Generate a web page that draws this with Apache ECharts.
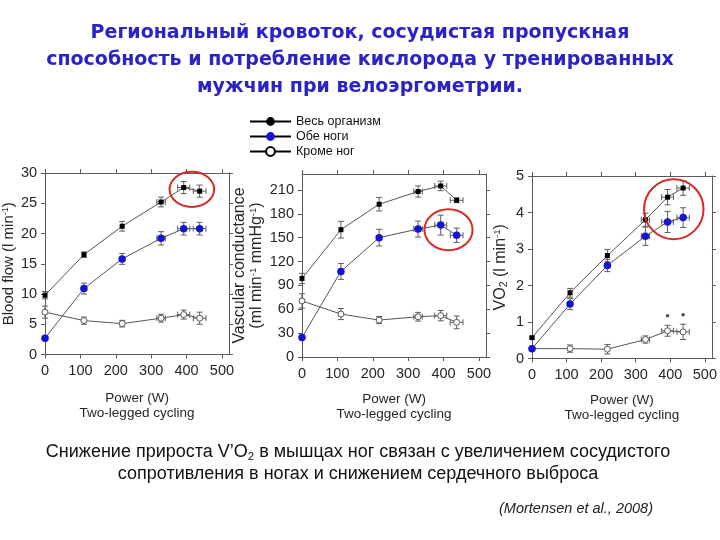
<!DOCTYPE html>
<html><head><meta charset="utf-8">
<script src="https://cdn.jsdelivr.net/npm/echarts@6/dist/echarts.min.js"></script>
<style>html,body{margin:0;padding:0;background:#fff}#c{width:720px;height:540px}</style>
</head><body><div id="c"></div>
<script>
// ---------- data ----------
const seriesNames = ['Весь организм', 'Обе ноги', 'Кроме ног'];
const powerW   = [0, 110, 218, 328, 392, 437];
const powerErr = [0, 0, 0, 12, 17, 18];
const xTicks = [0, 100, 200, 300, 400, 500];

// Panel 1: blood flow (l/min)
const flowWhole    = [9.8, 16.5, 21.2, 25.2, 27.6, 27.0];
const flowWholeErr = [0.6, 0.45, 0.8, 0.8, 1.0, 1.0];
const flowLegs     = [2.7, 10.9, 15.8, 19.2, 20.8, 20.8];
const flowLegsErr  = [0, 0.9, 0.9, 1.1, 1.05, 1.05];
const flowRest     = [7.0, 5.6, 5.1, 6.0, 6.6, 6.0];
const flowRestErr  = [1.0, 0.6, 0.55, 0.65, 0.75, 1.0];
const flowTicks = [0, 5, 10, 15, 20, 25, 30];

// Panel 2: vascular conductance (ml/min/mmHg)
const condWhole    = [98.7, 160, 192, 208, 215, 197];
const condWholeErr = [6.5, 10.5, 8.5, 7, 6, 3];
const condLegs     = [24.5, 107.6, 150, 160.8, 165.8, 153];
const condLegsErr  = [0, 10, 10.5, 10, 12.5, 9];
const condRest     = [70.5, 54, 46.4, 50.6, 52, 43.5];
const condRestErr  = [9, 7, 4.5, 5.5, 6.5, 8];
const condTicks = [0, 30, 60, 90, 120, 150, 180, 210];

// Panel 3: VO2 (l/min)
const vo2Whole    = [0.57, 1.80, 2.82, 3.80, 4.42, 4.67];
const vo2WholeErr = [0.03, 0.12, 0.17, 0.18, 0.21, 0.2];
const vo2Legs     = [0.27, 1.49, 2.55, 3.35, 3.74, 3.86];
const vo2LegsErr  = [0, 0.15, 0.17, 0.25, 0.29, 0.27];
const vo2Rest     = [0.27, 0.27, 0.255, 0.52, 0.76, 0.73];
const vo2RestErr  = [0.03, 0.1, 0.13, 0.1, 0.15, 0.21];
const vo2Ticks = [0, 1, 2, 3, 4, 5];
const sigPower = [392, 437];
const sigVo2   = [1.17, 1.2];

// highlighted regions (data units: centre x, centre y, radius x, radius y)
const highlight1 = [415, 27.3, 63, 2.9];
const highlight2 = [414, 160, 68, 25.8];
const highlight3 = [410, 4.09, 86, 0.82];

// ---------- styles ----------
const AX = '#5a5a5a';
const LBL = '#262626';
const FONT = "'Liberation Sans', Arial, sans-serif";
const LINE = '#555';
const BLUE = '#1414d2';

const panels = [
  {grid:{left:45, top:173, width:184, height:181.5}, yMax:30, yTicks:flowTicks,
   name:'Blood flow (l min{sup|-1})', nameGap:27, nameSize:15, xGap:36,
   whole:[flowWhole, flowWholeErr], legs:[flowLegs, flowLegsErr], rest:[flowRest, flowRestErr], hl:highlight1},
  {grid:{left:302, top:174, width:184, height:183}, yMax:230, yTicks:condTicks,
   name:'Vascular conductance\n(ml min{sup|-1} mmHg{sup|-1})', nameGap:37, nameSize:16, xGap:35,
   whole:[condWhole, condWholeErr], legs:[condLegs, condLegsErr], rest:[condRest, condRestErr], hl:highlight2},
  {grid:{left:532, top:176, width:184, height:182.5}, yMax:5, yTicks:vo2Ticks,
   name:'VO{sub|2} (l min{sup|-1})', nameGap:23, nameSize:16, xGap:34,
   whole:[vo2Whole, vo2WholeErr], legs:[vo2Legs, vo2LegsErr], rest:[vo2Rest, vo2RestErr], hl:highlight3}
];

const grids = [], xAxes = [], yAxes = [], series = [];

// legend proxies (drawn only in legend)
series.push({type:'line', name:seriesNames[0], data:[], xAxisIndex:0, yAxisIndex:0, symbol:'circle',
  itemStyle:{color:'#000'}, lineStyle:{color:'#000', width:1.5}});
series.push({type:'line', name:seriesNames[1], data:[], xAxisIndex:0, yAxisIndex:0, symbol:'circle',
  itemStyle:{color:BLUE}, lineStyle:{color:'#000', width:1.5}});
series.push({type:'line', name:seriesNames[2], data:[], xAxisIndex:0, yAxisIndex:0, symbol:'circle',
  itemStyle:{color:'#fff', borderColor:'#000', borderWidth:1.3}, lineStyle:{color:'#000', width:1.5}});

function axisBase(extra){
  return Object.assign({
    axisLine:{show:true, onZero:false, lineStyle:{color:AX, width:1}},
    splitLine:{show:false}
  }, extra);
}

function errSeries(p, ys, errs){
  return {
    type:'custom', xAxisIndex:2*p, yAxisIndex:2*p, silent:true, z:2,
    encode:{x:0, y:1},
    data: ys.map((y,i)=>[powerW[i], y, errs[i], powerErr[i]]),
    renderItem(params, api){
      const x = api.value(0), y = api.value(1), e = api.value(2), ex = api.value(3);
      const c = api.coord([x, y]);
      const st = {stroke:'#5e5e5e', lineWidth:1};
      const ch = [], cap = 3;
      if (e > 0){
        const t = api.coord([x, y + e])[1], b = api.coord([x, y - e])[1];
        ch.push({type:'line', shape:{x1:c[0], y1:t, x2:c[0], y2:b}, style:st});
        ch.push({type:'line', shape:{x1:c[0]-cap, y1:t, x2:c[0]+cap, y2:t}, style:st});
        ch.push({type:'line', shape:{x1:c[0]-cap, y1:b, x2:c[0]+cap, y2:b}, style:st});
      }
      if (ex > 0){
        const l = api.coord([x - ex, y])[0], r = api.coord([x + ex, y])[0];
        ch.push({type:'line', shape:{x1:l, y1:c[1], x2:r, y2:c[1]}, style:st});
        ch.push({type:'line', shape:{x1:l, y1:c[1]-cap, x2:l, y2:c[1]+cap}, style:st});
        ch.push({type:'line', shape:{x1:r, y1:c[1]-cap, x2:r, y2:c[1]+cap}, style:st});
      }
      return {type:'group', children:ch};
    }
  };
}

panels.forEach((P, p) => {
  grids.push(Object.assign({containLabel:false}, P.grid));
  xAxes.push(axisBase({type:'value', gridIndex:p, position:'bottom', min:0, max:520,
    name:'Power (W)\nTwo-legged cycling', nameLocation:'middle', nameGap:P.xGap,
    nameTextStyle:{fontFamily:FONT, fontSize:13.5, color:LBL, lineHeight:15},
    axisTick:{show:true, length:4, customValues:xTicks, lineStyle:{color:AX}},
    axisLabel:{customValues:xTicks, fontFamily:FONT, fontSize:14.5, color:LBL, margin:9}}));
  xAxes.push(axisBase({type:'value', gridIndex:p, position:'top', min:0, max:520,
    axisTick:{show:true, length:4, customValues:xTicks, lineStyle:{color:AX}},
    axisLabel:{show:false}}));
  yAxes.push(axisBase({type:'value', gridIndex:p, position:'left', min:0, max:P.yMax,
    name:P.name, nameLocation:'middle', nameGap:P.nameGap,
    nameTextStyle:{fontFamily:FONT, fontSize:P.nameSize, color:LBL, lineHeight:P.nameSize+1,
      rich:{sup:{fontSize:P.nameSize*0.6, verticalAlign:'top', fontFamily:FONT, color:LBL},
            sub:{fontSize:P.nameSize*0.65, verticalAlign:'bottom', fontFamily:FONT, color:LBL}}},
    axisTick:{show:true, length:4, customValues:P.yTicks, lineStyle:{color:AX}},
    axisLabel:{customValues:P.yTicks, fontFamily:FONT, fontSize:14.5, color:LBL, margin:8}}));
  yAxes.push(axisBase({type:'value', gridIndex:p, position:'right', min:0, max:P.yMax,
    axisTick:{show:true, length:4, customValues:P.yTicks, lineStyle:{color:AX}},
    axisLabel:{show:false}}));

  // error bars
  series.push(errSeries(p, P.rest[0], P.rest[1]));
  series.push(errSeries(p, P.whole[0], P.whole[1]));
  series.push(errSeries(p, P.legs[0], P.legs[1]));

  const common = {type:'line', xAxisIndex:2*p, yAxisIndex:2*p, showSymbol:true, z:3,
    lineStyle:{color:LINE, width:1}, emphasis:{disabled:true}};
  series.push(Object.assign({}, common, {name:seriesNames[2], symbol:'circle', symbolSize:6,
    itemStyle:{color:'#fff', borderColor:'#555', borderWidth:1},
    data:P.rest[0].map((v,i)=>[powerW[i], v])}));
  series.push(Object.assign({}, common, {name:seriesNames[0], symbol:'rect', symbolSize:5,
    itemStyle:{color:'#000'},
    data:P.whole[0].map((v,i)=>[powerW[i], v])}));
  series.push(Object.assign({}, common, {name:seriesNames[1], symbol:'circle', symbolSize:7.5,
    itemStyle:{color:BLUE},
    data:P.legs[0].map((v,i)=>[powerW[i], v])}));

  // red highlight ellipse
  series.push({type:'custom', xAxisIndex:2*p, yAxisIndex:2*p, silent:true, z:5, clip:false,
    encode:{x:0, y:1}, data:[P.hl],
    renderItem(params, api){
      const c = api.coord([api.value(0), api.value(1)]);
      const s = api.size([api.value(2), api.value(3)]);
      return {type:'ellipse', shape:{cx:c[0], cy:c[1], rx:s[0], ry:s[1]},
        style:{fill:'none', stroke:'#d62a22', lineWidth:2}};
    }});
});

// significance marks
series.push({type:'scatter', xAxisIndex:4, yAxisIndex:4, symbol:'circle', symbolSize:3.5, z:4,
  itemStyle:{color:'#222'}, data:sigPower.map((x,i)=>[x, sigVo2[i]])});

const chart = echarts.init(document.getElementById('c'), null, {renderer:'canvas'});
chart.setOption({
  animation:false,
  backgroundColor:'#fff',
  legend:{data:seriesNames, orient:'vertical', left:244, top:110, itemWidth:41, itemHeight:11, itemGap:2,
    selectedMode:false, textStyle:{fontFamily:FONT, fontSize:12.5, color:'#111'}},
  grid:grids, xAxis:xAxes, yAxis:yAxes, series:series,
  graphic:[
    {type:'text', x:360, y:20, silent:true, style:{
      text:'Региональный кровоток, сосудистая пропускная\nспособность и потребление кислорода у тренированных\nмужчин при велоэргометрии.',
      fontFamily:"'DejaVu Sans', sans-serif", fontWeight:'bold', fontSize:19, lineHeight:27,
      fill:'#2b22c8', align:'center', verticalAlign:'top'}},
    {type:'text', x:358, y:441, silent:true, style:{
      text:'Снижение прироста V’O{sub|2} в мышцах ног связан с увеличением сосудистого\nсопротивления в ногах и снижением сердечного выброса',
      fontFamily:FONT, fontSize:18, lineHeight:22,
      fill:'#111', align:'center', verticalAlign:'top',
      rich:{sub:{fontSize:11.5, verticalAlign:'bottom', fontFamily:FONT, fill:'#111'}}}},
    {type:'text', x:576, y:501, silent:true, style:{
      text:'(Mortensen et al., 2008)',
      fontFamily:FONT, fontStyle:'italic', fontSize:14.5,
      fill:'#222', align:'center', verticalAlign:'top'}}
  ]
});
</script></body></html>
